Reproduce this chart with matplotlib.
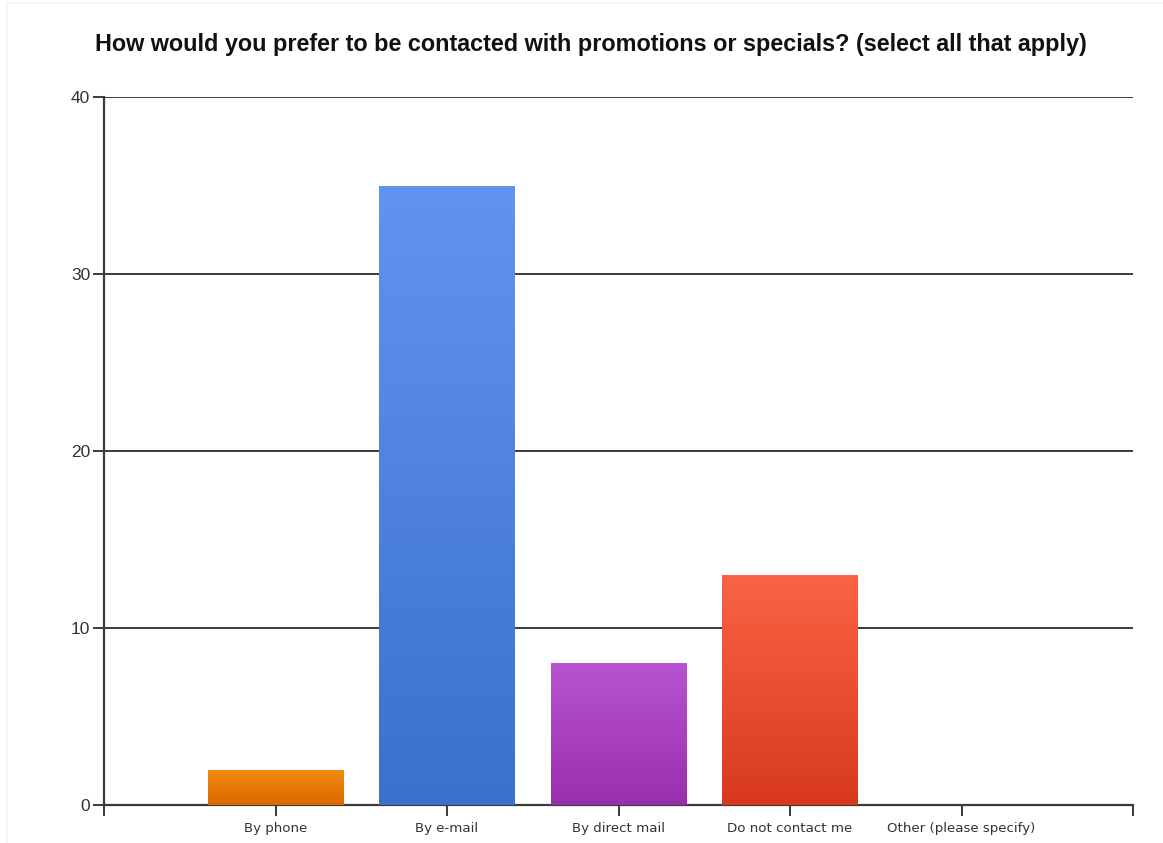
import numpy as np
import matplotlib.pyplot as plt
from matplotlib.colors import LinearSegmentedColormap
from matplotlib.lines import Line2D

# ── Survey responses ───────────────────────────────────────────
categories = ['By phone', 'By e-mail', 'By direct mail',
              'Do not contact me', 'Other (please specify)']
responses = [2, 35, 8, 13, 0]

# top / bottom shade of each bar
bar_top = ['#f28c12', '#6194ee', '#b754d2', '#fa6444', '']
bar_bottom = ['#dc6800', '#3b71cb', '#9a2eae', '#d8391c', '']

TITLE = 'How would you prefer to be contacted with promotions or specials? (select all that apply)'

fig = plt.figure(figsize=(11.63, 8.43), dpi=100, facecolor='white')
ax = fig.add_axes([104 / 1163, 1 - 805 / 843, 1029 / 1163, 708 / 843])

# faint frame around the chart image
fig.add_artist(Line2D([7 / 1163, 7 / 1163], [0, 1 - 3 / 843],
                      transform=fig.transFigure, color='#f3f3f3', linewidth=1.2))
fig.add_artist(Line2D([7 / 1163, 1], [1 - 3 / 843, 1 - 3 / 843],
                      transform=fig.transFigure, color='#f3f3f3', linewidth=1.2))

x = np.arange(1, len(categories) + 1)
bars = ax.bar(x, responses, width=0.79, color='none', zorder=3)

# vertical gradient fill clipped to each bar
grad = np.linspace(0, 1, 256).reshape(-1, 1)
for rect, c_top, c_bot in zip(bars, bar_top, bar_bottom):
    if rect.get_height() <= 0:
        continue
    cmap = LinearSegmentedColormap.from_list('g', [c_bot, c_top])
    x0, w, h = rect.get_x(), rect.get_width(), rect.get_height()
    im = ax.imshow(grad, cmap=cmap, aspect='auto', origin='lower',
                   extent=(x0, x0 + w, 0, h), zorder=3)
    im.set_clip_path(rect)

ax.set_xlim(0, len(categories) + 1)
ax.set_ylim(0, 40)
ax.set_yticks([0, 10, 20, 30, 40])
ax.set_xticks(np.arange(0, len(categories) + 2))
ax.set_xticklabels([''] + categories + [''])

for y in [10, 20, 30, 40]:
    ax.axhline(y, color='#3a3a3a', linewidth=1.4, zorder=1)

for side in ['top', 'right']:
    ax.spines[side].set_visible(False)
for side in ['left', 'bottom']:
    ax.spines[side].set_color('#3a3a3a')
    ax.spines[side].set_linewidth(1.6)

ax.tick_params(axis='y', direction='out', length=8, width=1.4, color='#3a3a3a',
               labelsize=12.5, labelcolor='#333333', pad=2)
ax.tick_params(axis='x', direction='out', length=8, width=1.4, color='#3a3a3a',
               labelsize=9.6, labelcolor='#333333', pad=4)
for lbl in ax.get_yticklabels():
    lbl.set_fontfamily('Liberation Sans')

fig.text(591 / 1163, 1 - 45 / 843, TITLE, ha='center', va='center',
         fontsize=16.8, fontweight='bold', family='Liberation Sans', color='#111111')

fig.savefig('out.png', dpi=100, facecolor='white')
